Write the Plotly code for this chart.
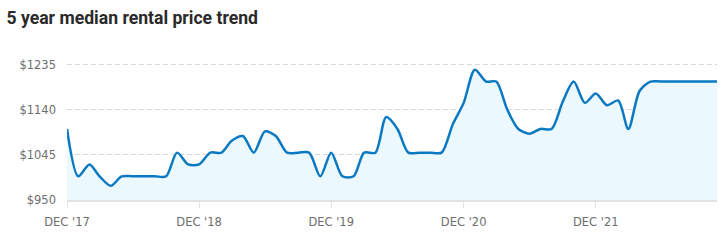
import pandas as pd
import plotly.graph_objects as go

months = pd.date_range("2017-12-01", periods=60, freq="MS")
median_rent = [
    1100, 1000, 1025, 1000, 980, 1000, 1000, 1000, 1000, 1000,
    1050, 1025, 1025, 1050, 1050, 1075, 1085, 1050, 1095, 1085,
    1050, 1050, 1050, 1000, 1050, 1000, 1000, 1050, 1050, 1125,
    1100, 1050, 1050, 1050, 1050, 1110, 1155, 1225, 1200, 1200,
    1140, 1100, 1090, 1100, 1100, 1158, 1200, 1155, 1175, 1150,
    1160, 1100, 1180, 1200, 1200, 1200, 1200, 1200, 1200, 1200,
]
x_tick_dates = ["2017-12-01", "2018-12-01", "2019-12-01", "2020-12-01", "2021-12-01"]
x_tick_labels = ["DEC '17", "DEC '18", "DEC '19", "DEC '20", "DEC '21"]
y_ticks = [950, 1045, 1140, 1235]
y_tick_labels = ["$950", "$1045", "$1140", "$1235"]

fig = go.Figure()
fig.add_trace(go.Scatter(
    x=months, y=median_rent, mode="lines",
    line=dict(color="#0b79c2", width=2.5, shape="spline", smoothing=0.8),
    fill="tozeroy", fillcolor="#ebf8fe", hoverinfo="skip",
))

fig.update_layout(
    width=722, height=241,
    margin=dict(l=67, r=5, t=62, b=41),
    paper_bgcolor="white", plot_bgcolor="white",
    showlegend=False,
    title=dict(text="<b>5 year median rental price trend</b>", x=0.009, xanchor="left",
               y=0.928, yanchor="middle",
               font=dict(family="Roboto", size=17.6, color="#2a2a2a")),
    font=dict(family="DejaVu Sans", size=11.5, color="#6e6e6e"),
)
fig.update_xaxes(
    range=[months[0], months[-1]],
    tickvals=x_tick_dates, ticktext=x_tick_labels,
    showgrid=False, showline=True, linecolor="#e2e2e2", linewidth=2,
    ticks="outside", ticklen=6, tickcolor="#e2e2e2", tickwidth=1,
    ticklabelstandoff=4,
    tickfont=dict(family="DejaVu Sans", size=11.5, color="#6e6e6e"),
    zeroline=False, fixedrange=True,
)
fig.update_yaxes(
    range=[950, 1241.3],
    tickvals=y_ticks, ticktext=y_tick_labels,
    showgrid=True, gridcolor="#d6d6d6", griddash="5px,3px", gridwidth=1,
    showline=False, zeroline=False, ticks="", ticklabelstandoff=10,
    tickfont=dict(family="DejaVu Sans", size=11.5, color="#6e6e6e"),
    fixedrange=True,
)

fig.write_html("out.html")
